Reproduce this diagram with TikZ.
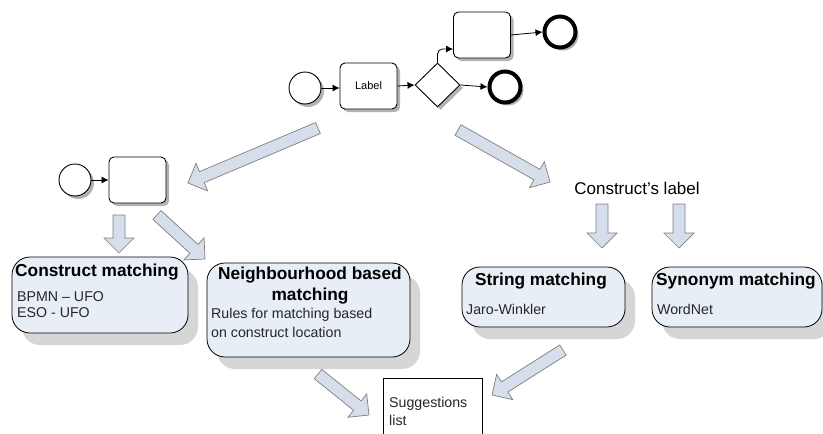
\documentclass[tikz,border=0pt]{standalone}
\usepackage{fontspec}
\setmainfont{Liberation Sans}
\usetikzlibrary{arrows.meta,calc,shapes.geometric,shadows}

\definecolor{boxfill}{HTML}{E8EEF6}
\definecolor{arrowfill}{HTML}{D5DEEA}
\definecolor{arrowline}{HTML}{7F7F7F}
\definecolor{shade}{HTML}{D6D6D6}

\tikzset{
  flowline/.style={draw=black, line width=0.8pt, -{Latex[length=7pt,width=7pt]}},
  bpmnshadow/.style={drop shadow={shadow xshift=3pt,shadow yshift=-3pt,fill=black!30,opacity=1}},
  task/.style={draw, rounded corners=5pt, line width=0.9pt, fill=white, inner sep=0pt,
    minimum width=57pt, minimum height=46pt, bpmnshadow},
  startev/.style={circle, draw, line width=0.9pt, fill=white, inner sep=0pt, minimum size=32pt, bpmnshadow},
  endev/.style={circle, draw, line width=4pt, fill=white, inner sep=0pt, minimum size=31pt, bpmnshadow},
  gateway/.style={diamond, draw, line width=0.9pt, fill=white, inner sep=0pt,
    minimum width=45pt, minimum height=44pt, bpmnshadow},
  matchbox/.style={draw, rounded corners=18pt, line width=0.8pt, fill=boxfill, inner sep=0pt,
    drop shadow={shadow xshift=10pt,shadow yshift=-12pt,fill=shade,opacity=1}},
  listbox/.style={draw, line width=0.8pt, fill=white, inner sep=0pt},
  blockarrow/.style={draw=arrowline, fill=arrowfill, line width=0.7pt, line join=miter},
  title/.style={font=\fontsize{17.3}{20}\selectfont\bfseries, inner sep=0pt},
  body/.style={font=\fontsize{14.2}{17}\selectfont, inner sep=0pt, text=black!85},
}

% wide hollow arrow from one named coordinate (tail) to another (tip)
\newcommand\blockarrow[2]{%
  \coordinate (ba-h) at ($(#2)!15pt!(#1)$);
  \draw[blockarrow] ($(#1)!6pt!90:(#2)$) -- ($(ba-h)!6pt!-90:(#1)$) --
    ($(ba-h)!15pt!-90:(#1)$) -- (#2) -- ($(ba-h)!15pt!90:(#1)$) --
    ($(ba-h)!6pt!90:(#1)$) -- ($(#1)!6pt!-90:(#2)$) -- cycle;}

\begin{document}
\begin{tikzpicture}[x=1pt,y=-1pt]
  \useasboundingbox (0,0) rectangle (823,434);
  \clip (0,0) rectangle (823,434);

  % process fragment at the top
  \node[startev] (s1) at (305,88) {};
  \node[task, font=\fontsize{11}{13}\selectfont] (t1) at (368.5,86) {Label};
  \node[gateway] (g1) at (437.5,85) {};
  \node[task] (t2) at (482,35) {};
  \node[endev] (e1) at (560,32) {};
  \node[endev] (e2) at (505,87) {};
  \draw[flowline] (s1) -- (t1.west |- s1);
  \draw[flowline] (t1.east) -- (g1.west);
  \draw[flowline, rounded corners=5pt] (g1.north) |- ([yshift=-14pt]t2.west);
  \draw[flowline] (t2.east) -- (e1.west);
  \draw[flowline] (g1.east) -- (e2.west);

  % process fragment on the left
  \node[startev] (s2) at (75,180) {};
  \node[task] (t3) at (137.5,180) {};
  \draw[flowline] (s2) -- (t3.west);

  % matching boxes
  \node[matchbox, minimum width=176pt, minimum height=76pt] (cm) at (100,295) {};
  \node[matchbox, minimum width=203pt, minimum height=94pt] (nm) at (308.5,310) {};
  \node[matchbox, minimum width=163pt, minimum height=60pt] (sm) at (543.5,297) {};
  \node[matchbox, minimum width=170pt, minimum height=60pt] (ym) at (737,297) {};
  \node[listbox, minimum width=99pt, minimum height=80pt, anchor=north west] (sl) at (383,378) {};

  % texts
  \node[title, anchor=west] (cmt) at (15,272) {Construct matching};
  \node[body, anchor=west] (cmb1) at (17,297) {BPMN – UFO};
  \node[body, anchor=west] (cmb2) at (17,313) {ESO - UFO};

  \node[title] (nmt1) at (310,275) {Neighbourhood based};
  \node[title] (nmt2) at (310,296) {matching};
  \node[body, anchor=west] (nmb1) at (211,315) {Rules for matching based};
  \node[body, anchor=west] (nmb2) at (211,332) {on construct location};

  \node[title] (smt) at (541,281) {String matching};
  \node[body, anchor=west] (smb) at (466,309) {Jaro-Winkler};

  \node[title, anchor=west] (ymt) at (656,281) {Synonym matching};
  \node[body, anchor=west] (ymb) at (657,309) {WordNet};

  \node[font=\fontsize{17}{20}\selectfont, inner sep=0pt] (cl) at (637,188) {Construct's label};

  \node[body, anchor=west] (sl1) at (389,404) {Suggestions};
  \node[body, anchor=west] (sl2) at (389,420) {list};

  % wide arrows
  \coordinate (a1s) at (318,128); \coordinate (a1e) at (188,183);
  \coordinate (a2s) at (458,130); \coordinate (a2e) at (550,182);
  \coordinate (a3s) at (119,215); \coordinate (a3e) at (119,253);
  \coordinate (a4s) at (157,215); \coordinate (a4e) at (205,259);
  \coordinate (a5s) at (602,204); \coordinate (a5e) at (602,248);
  \coordinate (a6s) at (679,204); \coordinate (a6e) at (679,248);
  \coordinate (a7s) at (318,374); \coordinate (a7e) at (369,415);
  \coordinate (a8s) at (563,350); \coordinate (a8e) at (492,395);
  \blockarrow{a1s}{a1e}
  \blockarrow{a2s}{a2e}
  \blockarrow{a3s}{a3e}
  \blockarrow{a4s}{a4e}
  \blockarrow{a5s}{a5e}
  \blockarrow{a6s}{a6e}
  \blockarrow{a7s}{a7e}
  \blockarrow{a8s}{a8e}
\end{tikzpicture}
\end{document}
